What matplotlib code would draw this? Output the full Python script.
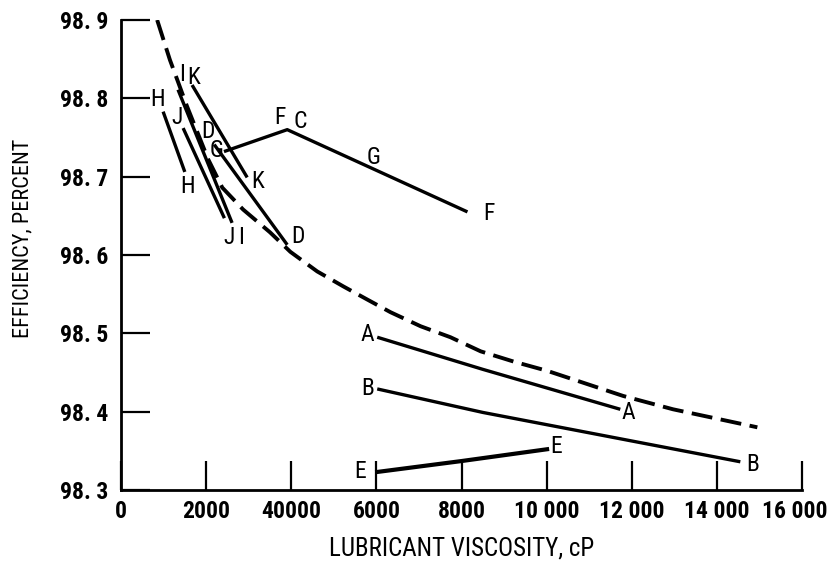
import matplotlib
matplotlib.use('Agg')
import matplotlib.pyplot as plt
from matplotlib.transforms import ScaledTranslation

# dashed limiting curve
curve_x = [850, 1150, 1320, 1550, 2050, 2380, 2870, 3500, 3980, 4610, 5220, 5790, 6330, 7040,
           7740, 8450, 9220, 10020, 11800, 12970, 14950]
curve_y = [98.900, 98.849, 98.824, 98.790, 98.722, 98.686, 98.658, 98.629, 98.604, 98.579, 98.560,
           98.543, 98.527, 98.509, 98.495, 98.477, 98.464, 98.452, 98.420, 98.403, 98.380]

# solid lines for each lubricant
line_h_x = [990, 1500]
line_h_y = [98.783, 98.706]
line_j_x = [1460, 2430]
line_j_y = [98.762, 98.647]
line_i_x = [1340, 2610]
line_i_y = [98.811, 98.641]
line_k_x = [1670, 2965]
line_k_y = [98.817, 98.699]
line_d_x = [2190, 3906]
line_d_y = [98.741, 98.613]
line_g_x = [2420, 3906, 8140]
line_g_y = [98.732, 98.760, 98.655]
line_a_x = [6020, 8500, 11730]
line_a_y = [98.495, 98.454, 98.403]
line_b_x = [6020, 8500, 14550]
line_b_y = [98.429, 98.399, 98.336]
line_e_x = [6020, 8010, 10010]
line_e_y = [98.323, 98.337, 98.352]

label_text = ['H', 'H', 'I', 'K', 'J', 'J', 'I', 'K', 'D', 'G', 'D', 'F', 'C', 'G', 'F',
              'A', 'A', 'B', 'B', 'E', 'E']
label_x = [870, 1553, 1435, 1710, 1318, 2550, 2810, 3200, 2050, 2250, 4165, 3741, 4212, 5929, 8635,
           5788, 11930, 5788, 14847, 5623, 10211]
label_y = [98.799, 98.687, 98.830, 98.827, 98.775, 98.622, 98.622, 98.694, 98.758, 98.733, 98.624,
           98.776, 98.770, 98.725, 98.653, 98.499, 98.399, 98.429, 98.333, 98.324, 98.355]

x_ticks = [0, 2000, 4000, 6000, 8000, 10000, 12000, 14000, 16000]
x_tick_labels = ['0', '2000', '40000', '6000', '8000', '10 000', '12 000', '14 000', '16 000']
y_ticks = [98.3, 98.4, 98.5, 98.6, 98.7, 98.8, 98.9]
y_tick_labels = ['98. 3', '98. 4', '98. 5', '98. 6', '98. 7', '98. 8', '98. 9']

fam = ['Roboto Condensed', 'Liberation Sans', 'DejaVu Sans']

fig = plt.figure(figsize=(8.32, 5.63), dpi=100)
ax = fig.add_axes([0.1454, 0.1297, 0.8186, 0.8348])

ax.plot(curve_x, curve_y, color='black', lw=2.8, linestyle=(0, (5.4, 2.2)))
lines = [(line_h_x, line_h_y), (line_j_x, line_j_y), (line_i_x, line_i_y),
         (line_k_x, line_k_y), (line_d_x, line_d_y), (line_g_x, line_g_y),
         (line_a_x, line_a_y), (line_b_x, line_b_y)]
for xs, ys in lines:
    ax.plot(xs, ys, color='black', lw=2.4, solid_capstyle='butt')
ax.plot(line_e_x, line_e_y, color='black', lw=3.0)

for t, x, y in zip(label_text, label_x, label_y):
    ax.text(x, y, t, fontsize=17, family=fam, stretch='condensed', ha='center', va='center')

ax.set_xlim(0, 16000)
ax.set_ylim(98.3, 98.9)
ax.set_xticks(x_ticks)
ax.set_xticklabels(x_tick_labels, family=fam, stretch='condensed', fontsize=17, fontweight='bold')
ax.set_yticks(y_ticks)
ax.set_yticklabels(y_tick_labels, family=fam, stretch='condensed', fontsize=17, fontweight='bold')
ax.tick_params(direction='in', length=21, width=1.6)
ax.tick_params(axis='y', pad=9)
ax.tick_params(axis='x', pad=7)

# nudge the last x label so it stays inside the figure
last = ax.get_xticklabels()[-1]
last.set_transform(last.get_transform() + ScaledTranslation(-5 / 72, 0, fig.dpi_scale_trans))

for side in ['top', 'right']:
    ax.spines[side].set_visible(False)
for side in ['left', 'bottom']:
    ax.spines[side].set_linewidth(2.0)

ax.set_xlabel('LUBRICANT VISCOSITY, cP', family=fam, stretch='condensed', fontsize=18)
ax.set_ylabel('EFFICIENCY, PERCENT', family=fam, stretch='condensed', fontsize=16)
ax.yaxis.set_label_coords(-0.129, 0.536)
ax.xaxis.set_label_coords(0.5, -0.10)

fig.savefig('out.png', dpi=100)
